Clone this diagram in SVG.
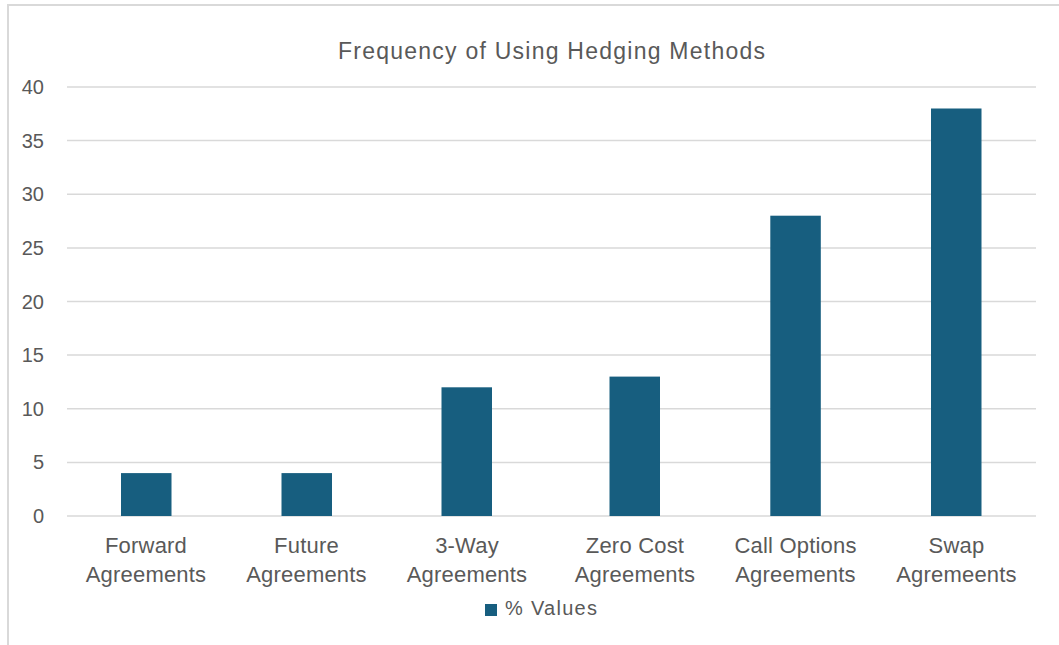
<svg xmlns="http://www.w3.org/2000/svg" width="1059" height="645" viewBox="0 0 1059 645">
<style>
.t{font-family:"Liberation Sans",Arial,sans-serif;fill:#595959}
.grid{stroke:#d9d9d9;stroke-width:1.5}
.bar{fill:#175E7F}
.frame{stroke:#d9d9d9;stroke-width:2;fill:none}
</style>
<rect width="1059" height="645" fill="#ffffff"/>
<path class="frame" d="M8,645 V5 H1059"/>
<text class="t" x="338" y="59" font-size="23" textLength="427" lengthAdjust="spacing">Frequency of Using Hedging Methods</text>
<g id="gridlines">
<line class="grid" x1="67" y1="87" x2="1036" y2="87"/>
<line class="grid" x1="67" y1="140.6" x2="1036" y2="140.6"/>
<line class="grid" x1="67" y1="194.2" x2="1036" y2="194.2"/>
<line class="grid" x1="67" y1="247.9" x2="1036" y2="247.9"/>
<line class="grid" x1="67" y1="301.5" x2="1036" y2="301.5"/>
<line class="grid" x1="67" y1="355.1" x2="1036" y2="355.1"/>
<line class="grid" x1="67" y1="408.7" x2="1036" y2="408.7"/>
<line class="grid" x1="67" y1="462.4" x2="1036" y2="462.4"/>
<line class="grid" x1="67" y1="516" x2="1036" y2="516"/>
</g>
<g id="yaxis" class="t" font-size="20" text-anchor="end">
<text x="44" y="94">40</text>
<text x="44" y="147.6">35</text>
<text x="44" y="201.2">30</text>
<text x="44" y="254.9">25</text>
<text x="44" y="308.5">20</text>
<text x="44" y="362.1">15</text>
<text x="44" y="415.7">10</text>
<text x="44" y="469.4">5</text>
<text x="44" y="523">0</text>
</g>
<g id="bars">
<rect id="bar-forward" class="bar" x="121" y="473.1" width="50.5" height="42.9"/>
<rect id="bar-future" class="bar" x="281.5" y="473.1" width="50.5" height="42.9"/>
<rect id="bar-3way" class="bar" x="441.5" y="387.3" width="50.5" height="128.7"/>
<rect id="bar-zerocost" class="bar" x="609.5" y="376.6" width="50.5" height="139.4"/>
<rect id="bar-call" class="bar" x="770.3" y="215.7" width="50.5" height="300.3"/>
<rect id="bar-swap" class="bar" x="931" y="108.5" width="50.5" height="407.5"/>
</g>
<g id="xlabels" class="t" font-size="22" letter-spacing="0.2" text-anchor="middle">
<text x="146" y="553">Forward</text><text x="146" y="582">Agreements</text>
<text x="306.5" y="553">Future</text><text x="306.5" y="582">Agreements</text>
<text x="467" y="553">3-Way</text><text x="467" y="582">Agreements</text>
<text x="635" y="553">Zero Cost</text><text x="635" y="582">Agreements</text>
<text x="795.5" y="553">Call Options</text><text x="795.5" y="582">Agreements</text>
<text x="956.5" y="553">Swap</text><text x="956.5" y="582">Agremeents</text>
</g>
<g id="legend">
<rect class="bar" x="485" y="604" width="12" height="12"/>
<text class="t" x="505" y="615" font-size="20" textLength="92" lengthAdjust="spacing">% Values</text>
</g>
</svg>
